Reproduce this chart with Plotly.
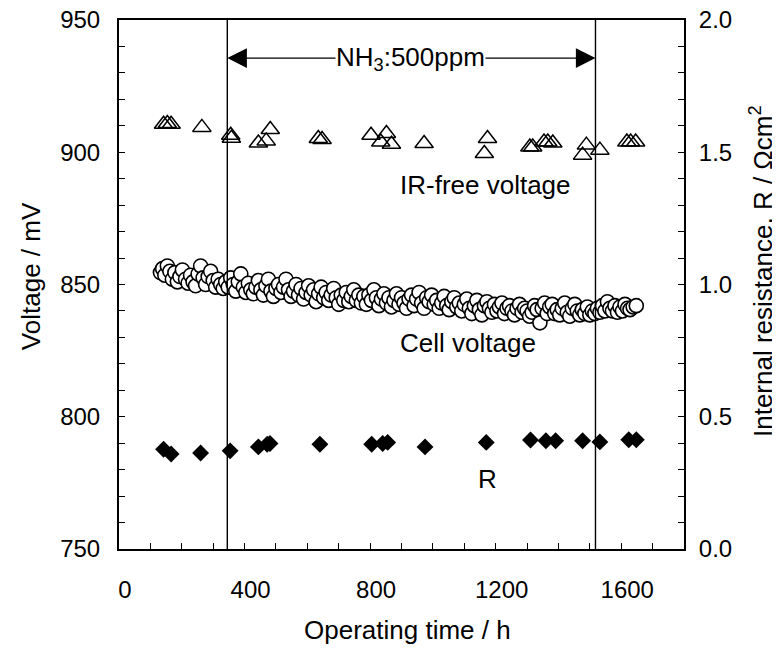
import plotly.graph_objects as go

# ---------------- data ----------------
cell_time = [132, 139, 146, 154, 162, 170, 178, 186, 194, 202,
             212, 220, 228, 236, 244, 252, 260, 268, 276, 284,
             292, 300, 308, 316, 324, 332, 340, 348, 356, 364,
             372, 380, 388, 396, 404, 412, 420, 428, 436, 444,
             452, 460, 468, 476, 484, 492, 500, 508, 516, 524,
             532, 540, 548, 556, 564, 572, 580, 588, 596, 604,
             612, 620, 628, 636, 644, 652, 660, 668, 676, 684,
             692, 700, 708, 716, 724, 732, 740, 748, 756, 764,
             772, 780, 788, 796, 804, 812, 820, 828, 836, 844,
             852, 860, 868, 876, 884, 892, 900, 908, 916, 924,
             932, 940, 948, 956, 964, 972, 980, 988, 996, 1004,
             1012, 1020, 1028, 1036, 1044, 1052, 1060, 1068, 1076, 1084,
             1092, 1100, 1108, 1116, 1124, 1132, 1140, 1148, 1156, 1164,
             1172, 1180, 1188, 1196, 1204, 1212, 1220, 1228, 1236, 1244,
             1252, 1260, 1268, 1276, 1284, 1292, 1300, 1308, 1316, 1324,
             1332, 1341, 1348, 1356, 1364, 1372, 1380, 1388, 1396, 1404,
             1412, 1420, 1428, 1436, 1444, 1452, 1460, 1468, 1476, 1484,
             1492, 1500, 1508, 1516, 1524, 1532, 1540, 1548, 1556, 1564,
             1572, 1580, 1588, 1596, 1604, 1612, 1620, 1628, 1638, 1648]
cell_voltage = [854.5, 856.0, 853.5, 857.0, 855.0, 852.0, 854.5, 851.0, 853.0, 855.5,
                852.0, 850.5, 853.5, 851.0, 849.5, 854.0, 857.0, 852.5, 850.0, 853.0,
                855.0, 851.5, 849.0, 852.0, 850.0, 848.5, 851.0, 849.0, 852.5, 850.0,
                847.5, 851.0, 854.0, 849.0, 847.0, 850.5, 848.0, 846.5, 849.0, 851.5,
                848.0, 846.0, 849.5, 852.0, 847.5, 845.5, 848.5, 850.0, 847.0, 849.0,
                852.0, 848.0, 845.5, 847.5, 850.0, 846.0, 848.5, 844.5, 847.0, 849.5,
                846.0, 848.0, 843.5, 846.5, 849.0, 845.0, 847.0, 844.0, 846.0, 848.5,
                845.0, 842.5, 846.0, 844.0, 847.0, 843.5, 845.5, 848.0, 844.0, 846.0,
                843.0, 845.5, 842.5, 846.0, 844.0, 848.0, 845.0, 842.0, 844.5, 846.5,
                843.0, 845.0, 841.5, 844.0, 846.5, 842.5, 845.0, 843.0, 841.0, 844.5,
                846.0, 842.0, 844.5, 847.0, 843.0, 841.0, 845.0, 843.5, 846.0, 842.5,
                844.0, 841.0, 843.0, 845.5, 842.0, 840.5, 843.5, 845.0, 841.5, 843.0,
                840.0, 842.5, 844.5, 841.0, 839.0, 842.0, 844.0, 840.5, 838.5, 842.0,
                843.5, 841.0, 839.5, 842.5, 840.0, 841.5, 843.0, 839.0, 841.0, 842.0,
                840.0, 838.5, 841.0, 842.5, 839.5, 841.0, 840.0, 838.0, 839.5, 842.0,
                840.5, 835.5, 841.0, 843.0, 839.0, 841.5, 842.5, 839.0, 840.5, 838.5,
                841.0, 843.0, 839.5, 838.0, 841.0, 842.5, 840.0, 838.5, 840.5, 839.0,
                841.5, 838.5, 840.0, 839.0, 841.0, 839.5, 842.0, 840.0, 843.5, 841.0,
                840.0, 842.0, 839.5, 841.5, 840.0, 842.5, 841.0, 840.5, 841.5, 842.0]

irfree_time = [142, 154, 166, 264, 356, 358, 444, 469, 482, 635, 647,
               803, 834, 852, 868, 972, 1164, 1174, 1309, 1318, 1354,
               1366, 1382, 1477, 1489, 1532, 1618, 1630, 1646]
irfree_voltage = [910.6, 910.9, 910.6, 909.4, 906.4, 905.3, 903.5, 904.3, 908.6, 905.2, 904.8,
                  906.4, 903.9, 907.1, 903.0, 903.3, 899.5, 905.2, 902.0, 902.0, 903.9,
                  903.9, 903.5, 898.9, 902.7, 900.8, 903.9, 903.9, 903.9]

r_time = [142, 166, 260, 354, 444, 472, 481, 640, 805, 840,
          856, 975, 1170, 1311, 1360, 1391, 1477, 1532, 1624, 1648]
r_value = [0.377, 0.359, 0.363, 0.371, 0.386, 0.396, 0.399, 0.396, 0.396, 0.399,
           0.403, 0.386, 0.403, 0.412, 0.409, 0.409, 0.409, 0.405, 0.413, 0.413]

nh3_start = 345
nh3_end = 1518

FONT = "Liberation Sans, Arial, sans-serif"

fig = go.Figure()

fig.add_trace(go.Scatter(
    x=cell_time, y=cell_voltage, mode="markers", name="Cell voltage",
    marker=dict(symbol="circle", size=14, color="white",
                line=dict(color="black", width=1.6)),
))
fig.add_trace(go.Scatter(
    x=irfree_time, y=irfree_voltage, mode="markers", name="IR-free voltage",
    marker=dict(symbol="triangle-up-open", size=16, color="black",
                line=dict(color="black", width=1.5)),
))
fig.add_trace(go.Scatter(
    x=r_time, y=r_value, mode="markers", name="R", yaxis="y2",
    marker=dict(symbol="diamond", size=13, color="black",
                line=dict(color="black", width=0)),
))

# vertical lines marking NH3 exposure
for xv in (nh3_start, nh3_end):
    fig.add_shape(type="line", x0=xv, x1=xv, y0=0, y1=1, xref="x", yref="paper",
                  line=dict(color="black", width=1.4))

# arrows
arrow_y = 935.6
fig.add_annotation(x=nh3_start, y=arrow_y, ax=720, ay=arrow_y, axref="x", ayref="y",
                   xref="x", yref="y", text="", showarrow=True, arrowhead=2,
                   arrowsize=2.8, arrowwidth=1.4, arrowcolor="black")
fig.add_annotation(x=nh3_end, y=arrow_y, ax=1130, ay=arrow_y, axref="x", ayref="y",
                   xref="x", yref="y", text="", showarrow=True, arrowhead=2,
                   arrowsize=2.8, arrowwidth=1.4, arrowcolor="black")
fig.add_annotation(x=928, y=arrow_y, xref="x", yref="y", showarrow=False,
                   text="NH<sub>3</sub>:500ppm", font=dict(size=26, color="black", family=FONT),
                   bgcolor="white", borderpad=0)

# series labels
for txt, xx, yy in (("IR-free voltage", 1167, 887.5),
                    ("Cell voltage", 1112, 828.0),
                    ("R", 1173, 776.5)):
    fig.add_annotation(x=xx, y=yy, xref="x", yref="y", text=txt, showarrow=False,
                       font=dict(size=26, color="black", family=FONT))

# axis titles
title_font = dict(size=26, color="black", family=FONT)
fig.add_annotation(x=-0.1565, y=0.515, xref="paper", yref="paper", text="Voltage / mV",
                   xanchor="center", yanchor="middle",
                   textangle=-90, showarrow=False, font=title_font)
fig.add_annotation(x=1.1385, y=0.526, xref="paper", yref="paper",
                   text="Internal resistance, R / Ωcm<sup>2</sup>",
                   xanchor="center", yanchor="middle",
                   textangle=-90, showarrow=False, font=title_font)
fig.add_annotation(x=0.51, y=-0.153, xref="paper", yref="paper", text="Operating time / h",
                   xanchor="center", yanchor="middle",
                   showarrow=False, font=title_font)

tickfont = dict(size=24, color="black", family=FONT)
fig.update_layout(
    width=772, height=644,
    margin=dict(l=111, r=96, t=12, b=103, autoexpand=False),
    paper_bgcolor="white", plot_bgcolor="white",
    showlegend=False,
    font=dict(family=FONT, color="black"),
    xaxis=dict(range=[0, 1800], tickmode="array", tickvals=[0, 400, 800, 1200, 1600],
               ticks="inside", ticklen=6, tickwidth=1.2, tickcolor="black",
               minor=dict(dtick=100, tick0=0, ticks="inside", ticklen=6, tickwidth=1.2,
                          tickcolor="black", showgrid=False),
               showline=True, linecolor="black", linewidth=2, mirror=True,
               showgrid=False, zeroline=False, tickfont=tickfont, automargin=False,
               ticklabelstandoff=18, ticklabelshift=6, ticklabeloverflow="allow"),
    yaxis=dict(range=[750, 950], dtick=50, tick0=750,
               ticks="inside", ticklen=6, tickwidth=1.2, tickcolor="black",
               minor=dict(dtick=10, ticks="inside", ticklen=6, tickwidth=1.2,
                          tickcolor="black", showgrid=False),
               showline=True, linecolor="black", linewidth=2, automargin=False,
               showgrid=False, zeroline=False, tickfont=tickfont,
               ticklabelstandoff=12, ticklabeloverflow="allow"),
    yaxis2=dict(range=[0, 2], dtick=0.5, tick0=0, tickformat=".1f",
                overlaying="y", side="right",
                ticks="inside", ticklen=6, tickwidth=1.2, tickcolor="black",
                minor=dict(dtick=0.1, ticks="inside", ticklen=6, tickwidth=1.2,
                           tickcolor="black", showgrid=False),
                showline=True, linecolor="black", linewidth=2, automargin=False,
                showgrid=False, zeroline=False, tickfont=tickfont,
                ticklabelstandoff=8, ticklabeloverflow="allow"),
)

fig.write_html("out.html")
